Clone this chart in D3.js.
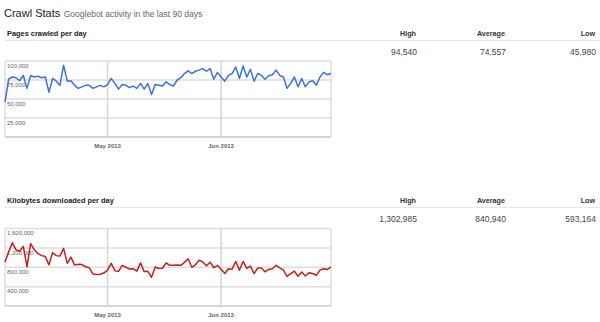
<!DOCTYPE html>
<html>
<head>
<meta charset="utf-8">
<script src="https://cdn.jsdelivr.net/npm/d3@7/dist/d3.min.js"></script>
<style>
  html, body { margin: 0; padding: 0; background: #fff; }
  svg { display: block; font-family: "Liberation Sans", Arial, sans-serif; }
</style>
</head>
<body>
<svg id="chart" width="600" height="322"></svg>
<script>
// Daily Googlebot activity, 3 Apr 2013 – 1 Jul 2013 (90 days)
const startDate = "2013-04-03";
const endDate = "2013-07-01";

const pagesCrawled = [
  45980, 76000, 79000, 78000, 74000, 81000, 64000, 81000, 79000, 80000,
  78000, 79000, 59000, 77000, 73500, 68000, 94540, 73500, 74000, 68000,
  64000, 66000, 68000, 68000, 64000, 66000, 68000, 66000, 69000, 77000,
  70500, 63000, 69000, 68000, 65000, 67000, 64000, 70500, 63000, 70500,
  56000, 69000, 68000, 67000, 72600, 69000, 67000, 75000, 78000, 83500,
  87000, 83500, 86500, 88000, 90000, 86500, 90000, 76000, 85000, 79000,
  73500, 81000, 83500, 92000, 77000, 93500, 79000, 89000, 73500, 83500,
  81000, 76000, 80500, 82000, 88000, 81000, 79000, 64000, 70500, 79000,
  66000, 77000, 66000, 72600, 74000, 68000, 79000, 85000, 82000, 83500
];

const kilobytesDownloaded = [
  910000, 1120000, 1302985, 1160000, 1130000, 1230000, 810000, 1290000, 1160000, 1080000,
  1040000, 1020000, 850000, 1100000, 1040000, 1030000, 1190000, 880000, 1010000, 845000,
  860000, 855000, 810000, 790000, 660000, 650000, 655000, 680000, 740000, 880000,
  730000, 715000, 840000, 800000, 765000, 770000, 720000, 890000, 710000, 715000,
  593164, 805000, 775000, 780000, 890000, 840000, 840000, 845000, 840000, 900000,
  975000, 800000, 850000, 945000, 910000, 830000, 905000, 790000, 840000, 760000,
  670000, 770000, 760000, 920000, 740000, 920000, 775000, 825000, 670000, 785000,
  785000, 705000, 755000, 770000, 840000, 785000, 740000, 610000, 670000, 720000,
  615000, 700000, 620000, 685000, 670000, 635000, 740000, 770000, 755000, 805000
];

const pagesTicks = [0, 25000, 50000, 75000, 100000];
const kilobytesTicks = [0, 400000, 800000, 1200000, 1600000];
const monthTicks = ["2013-05-01", "2013-06-01"];

const statLabels = ["High", "Average", "Low"];
const pagesStats = ["94,540", "74,557", "45,980"];
const kilobytesStats = ["1,302,985", "840,940", "593,164"];

const parse = d3.utcParse("%Y-%m-%d");
const dates = d3.utcDay.range(parse(startDate), d3.utcDay.offset(parse(endDate), 1));
const months = monthTicks.map(parse);

const svg = d3.select("#chart");
const fmt = d3.format(",");
const monthFmt = d3.utcFormat("%b %Y");

// Page title
const title = svg.append("text").attr("x", 4).attr("y", 16.5);
title.append("tspan").attr("font-size", 11).attr("fill", "#222").text("Crawl Stats");
title.append("tspan").attr("dx", 3.5).attr("font-size", 8.5).attr("fill", "#666")
  .text("Googlebot activity in the last 90 days");

const statX = [416, 505, 595];

function section(name, headerY, stats) {
  svg.append("text").attr("x", 7).attr("y", headerY)
    .attr("font-size", 7.4).attr("font-weight", "bold").attr("fill", "#222").text(name);
  svg.selectAll(null).data(statLabels).join("text")
    .attr("x", (d, i) => statX[i]).attr("y", headerY)
    .attr("text-anchor", "end").attr("font-size", 7.2).attr("font-weight", "bold")
    .attr("fill", "#333").text(d => d);
  svg.append("line").attr("x1", 5).attr("x2", 600)
    .attr("y1", headerY + 5).attr("y2", headerY + 5)
    .attr("stroke", "#e6e6e6").attr("stroke-width", 1);
  svg.selectAll(null).data(stats).join("text")
    .attr("x", (d, i) => statX[i] + 1).attr("y", headerY + 19.5)
    .attr("text-anchor", "end").attr("font-size", 8.5).attr("fill", "#444").text(d => d);
}

function plot(values, ticks, color, top, bottom) {
  const x = d3.scaleUtc().domain([dates[0], dates[dates.length - 1]]).range([5, 331]);
  const y = d3.scaleLinear().domain([0, ticks[ticks.length - 1]]).range([bottom, top]);
  const g = svg.append("g");

  // horizontal gridlines
  g.selectAll(null).data(ticks).join("line")
    .attr("x1", 5).attr("x2", 331)
    .attr("y1", d => y(d)).attr("y2", d => y(d))
    .attr("stroke", (d, i) => i === 0 ? "#c8c8c8" : "#dedede")
    .attr("stroke-width", 1.5);

  // month gridlines
  g.selectAll(null).data(months).join("line")
    .attr("x1", d => x(d)).attr("x2", d => x(d))
    .attr("y1", top).attr("y2", bottom)
    .attr("stroke", "#d6d6d6").attr("stroke-width", 1.5);

  // side borders
  g.selectAll(null).data([5, 331]).join("line")
    .attr("x1", d => d).attr("x2", d => d)
    .attr("y1", top).attr("y2", bottom)
    .attr("stroke", "#d0d0d0").attr("stroke-width", 1);

  // value labels sit just under their gridline
  g.selectAll(null).data(ticks.slice(1)).join("text")
    .attr("x", 7).attr("y", d => y(d) + 6.8)
    .attr("font-size", 6).attr("fill", "#666").text(d => fmt(d));

  // month labels
  g.selectAll(null).data(months).join("text")
    .attr("x", d => x(d)).attr("y", bottom + 11)
    .attr("text-anchor", "middle").attr("font-size", 6).attr("font-weight", "bold")
    .attr("fill", "#666").text(d => monthFmt(d));

  const line = d3.line().x((d, i) => x(dates[i])).y(d => y(d));
  g.append("path").datum(values)
    .attr("d", line).attr("fill", "none")
    .attr("stroke", color).attr("stroke-width", 1.5)
    .attr("stroke-linejoin", "round");
}

section("Pages crawled per day", 35.5, pagesStats);
plot(pagesCrawled, pagesTicks, "#3b72de", 61, 137);

section("Kilobytes downloaded per day", 202.5, kilobytesStats);
plot(kilobytesDownloaded, kilobytesTicks, "#c4221d", 228.5, 306);
</script>
</body>
</html>
